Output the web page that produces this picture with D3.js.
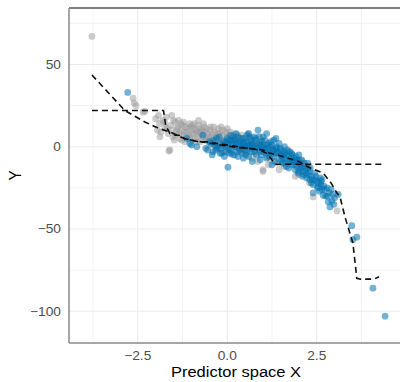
<!DOCTYPE html>
<html><head><meta charset="utf-8">
<script src="https://cdn.jsdelivr.net/npm/d3@7"></script>
<style>html,body{margin:0;padding:0;background:#fff}</style>
</head><body>
<script>
const xTicks = [-2.5, 0, 2.5];
const xMinor = [-3.75, -1.25, 1.25, 3.75];
const yTicks = [-100, -50, 0, 50];
const yMinor = [-75, -25, 25, 75];
const xLabel = "Predictor space X";
const yLabel = "Y";

const grayPoints = [
[-3.78,67],[-2.63,29.5],[-2.6,26.5],[-2.55,25],[-2.35,21],[-2.3,21.5],[-1.88,6],[-1.8,16],[-1.74,12],[-1.63,-2.6],[-1.6,-2],[-1.52,6],[-1.46,15],[-1.4,11],[-1.35,8],[-1.3,14],[-1.24,13],[-1.2,9],[-1.15,6],[-1.1,11],[-1.05,14],[-1.0,8],[-0.96,11],[-0.9,5],[-0.85,9],[-0.8,13],[-0.75,3],[-0.72,7],[-0.7,10],[-0.65,12],[-0.6,4],[-0.55,8],[-0.5,1],[-0.48,10],[-0.45,6],[-0.4,3],[-0.35,9],[-0.3,-1],[-0.28,5],[-0.25,11],[-0.2,2],[-0.15,7],[-0.1,-3],[-0.08,4],[-0.05,9],[0,11],[0.02,1],[0.05,-2],[0.1,6],[0.12,3],[0.15,-5],[0.2,8],[0.25,0],[0.3,4],[0.35,-3],[0.4,7],[0.45,1],[0.5,-4],[0.55,3],[0.6,-1],[0.65,5],[0.7,-7],[0.75,0],[0.8,2],[0.85,-9],[0.9,-3],[1.0,-14],[1.0,-15],[1.05,1],[1.1,-6],[1.2,-8],[1.3,-2],[1.4,-10],[1.5,-5],[1.6,-12],[1.8,-9],[2.0,-17],[2.2,-14],[2.4,-30.5],[3.07,-39],
[-1.95,10],[-1.9,14],[-1.85,9],[-1.7,18],[-1.65,8],[-1.58,13],[-1.55,10],[-1.5,16],[-1.48,4],[-1.42,9],[-1.38,12],[-1.33,5],[-1.28,10],[-1.25,7],[-1.22,15],[-1.18,3],[-1.12,9],[-1.08,7],[-1.02,12],[-0.98,4],[-0.94,8],[-0.92,14],[-0.88,10],[-0.82,6],[-0.78,11],[-0.74,8],[-0.68,5],[-0.63,9],[-0.58,11],[-0.52,6],[-0.46,3],[-0.42,8],[-0.38,12],[-0.32,6],[-0.22,8],[-0.18,4],[-0.12,10],[-0.02,6],[0.08,9],[0.18,3],[0.28,7],[0.38,-1],[0.48,5],[0.58,8],[0.68,2],[0.78,-4],[0.95,3],[1.15,-11],[1.25,-5],[1.45,-14],[1.7,-3],[1.9,-18],[2.1,-9],[2.3,-22],
[-1.75,15],[-1.68,11],[-1.45,7],[-1.36,16],[-1.27,4],[-1.16,12],[-1.06,5],[-0.97,13],[-0.86,3],[-0.77,9],[-0.66,14],[-0.57,5],[-0.47,12],[-0.37,1],[-0.27,8],[-0.17,12],[-0.07,1],[0.03,7],[0.13,-1],[0.23,5],[-2.0,17],[-1.92,19],[-1.55,19],[-0.8,16]
];

const bluePoints = [
[-2.78,33],[-1.13,5],[-1.04,2],[-1.0,1],[-0.85,0],[-0.68,7],[-0.6,-1],[-0.5,3],[-0.4,-3],[-0.35,1],[-0.3,5],[-0.25,-1],[-0.2,2],[-0.15,-4],[-0.1,3],[-0.05,0],[0.02,-12.5],[0,5],[0.05,2],[0.1,-2],[0.1,7],[0.15,1],[0.2,4],[0.2,-5],[0.25,2],[0.3,-1],[0.3,6],[0.35,3],[0.4,-4],[0.4,1],[0.45,5],[0.5,0],[0.5,-2],[0.55,3],[0.6,-6],[0.6,1],[0.65,4],[0.7,-1],[0.7,2],[0.75,-3],[0.8,5],[0.8,0],[0.86,10],[0.9,-2],[0.9,2],[0.95,-5],[1.0,0],[1.0,-3],[1.05,4],[1.1,-1],[1.1,-7],[1.15,2],[1.2,-4],[1.2,0],[1.25,-2],[1.3,-6],[1.36,5],[1.35,-1],[1.4,-3],[1.45,-8],[1.5,-2],[1.5,-5],[1.55,-10],[1.6,-4],[1.6,-7],[1.65,-12],[1.7,-6],[1.75,-9],[1.8,-4],[1.8,-11],[1.85,-7],[1.9,-14],[1.9,-9],[1.95,-12],[2.0,-8],[2.0,-15],[2.05,-11],[2.1,-13],[2.1,-18],[2.15,-10],[2.2,-16],[2.25,-13],[2.3,-20],[2.3,-15],[2.35,-18],[2.4,-23],[2.4,-28],[2.45,-16],[2.5,-21],[2.54,-24.5],[2.6,-19],[2.65,-26],[2.68,-29.5],[2.79,-25],[2.82,-33.5],[2.87,-36.6],[3.0,-31],[3.1,-29],[3.48,-48],[3.51,-56.5],[3.62,-55],[4.07,-86],[4.41,-103],
[-0.45,2],[-0.42,-5],[-0.38,4],[-0.32,-2],[-0.28,0],[-0.22,6],[-0.18,-1],[-0.12,1],[-0.08,-6],[-0.02,3],[0.03,-1],[0.08,4],[0.12,-4],[0.18,6],[0.22,0],[0.28,-3],[0.32,2],[0.38,5],[0.42,-1],[0.48,3],[0.52,-5],[0.58,0],[0.62,6],[0.68,-3],[0.72,1],[0.78,4],[0.82,-5],[0.88,1],[0.92,-8],[0.97,3],[1.02,-1],[1.08,-4],[1.12,1],[1.18,-6],[1.22,3],[1.28,-2],[1.32,-9],[1.38,0],[1.42,-4],[1.48,-1],[1.52,-8],[1.58,-3],[1.62,-10],[1.68,-2],[1.72,-13],[1.78,-7],[1.82,-5],[1.88,-11],[1.92,-6],[1.98,-16],[2.02,-10],[2.08,-8],[2.12,-15],[2.18,-12],[2.22,-19],[2.28,-17],[2.32,-13],[2.38,-20],[2.48,-18],[2.55,-22],[2.58,-27],[2.62,-23],[2.72,-26],[2.75,-30],[2.85,-28],[2.92,-33],[2.95,-29],[2.62,-21],[0.25,8],[0.55,7],[1.0,6],[0.45,-7],[1.25,-11],[0.7,-9],
[0.05,-4],[0.15,4],[0.35,-2],[0.45,2],[0.55,-3],[0.65,1],[0.75,6],[0.85,-1],[0.95,1],[1.05,-2],[1.15,-3],[1.25,1],[1.35,-4],[1.45,2],[1.55,-6],[1.65,-5],[1.75,-3],[1.85,-9],[1.95,-8],[2.05,-13],[2.15,-17],[2.25,-10],[2.35,-22],[2.45,-20],[2.52,-25],[2.65,-20],[2.7,-24],[2.8,-30],[2.9,-26],[2.98,-35],[0.9,6],[1.3,4],[1.6,0],[0.3,-6],[-0.05,-3],[0.6,8],[1.1,8],[1.7,-9],[2.0,-5],[-0.55,-2],[-0.2,-4],[0.0,2]
];

const lineAX = [-3.78, -1.78, -1.72, -1.6, -1.45, -1.3, -1.2, -1.0, -0.8, -0.6, -0.3, 0.0, 0.3, 0.6, 0.9, 1.1, 1.25, 1.33, 4.41];
const lineAY = [22, 22, 13, 8, 7, 7, 5, 4, 3, 3, 2, 1, 0, -1, -2, -4, -8, -10.7, -10.7];
const lineBX = [-3.78, -2.86, -2.3, -1.9, -1.6, -1.4, -1.2, -0.9, -0.6, -0.3, 0, 0.3, 0.6, 0.85, 1.0, 1.1, 1.2, 1.4, 1.7, 2.0, 2.23, 2.45, 2.68, 2.9, 3.06, 3.15, 3.29, 3.51, 3.62, 3.72, 4.1, 4.24];
const lineBY = [43.6, 22, 15, 11, 9, 7, 5, 3.5, 2.5, 1.5, 0.5, -0.5, -1, -1.5, -2, -3.5, -4, -5, -7, -9, -12, -14, -16, -22, -28, -30.5, -42.7, -58.5, -80, -80.5, -80.5, -79];

const W = 400, H = 382;
const P = {l: 69, r: 403, t: 8, b: 343};
const svg = d3.select("body").append("svg").attr("width", W).attr("height", H);
const x = d3.scaleLinear().domain([-4.42, 4.91]).range([P.l, P.r]);
const y = d3.scaleLinear().domain([-119.3, 84.3]).range([P.b, P.t]);

svg.append("defs").append("clipPath").attr("id","clip").append("rect")
  .attr("x", P.l).attr("y", P.t).attr("width", P.r - P.l).attr("height", P.b - P.t);

const g = svg.append("g").attr("clip-path","url(#clip)");
g.selectAll(".mx").data(xMinor).join("line").attr("x1", d=>x(d)).attr("x2", d=>x(d)).attr("y1",P.t).attr("y2",P.b).attr("stroke","#f0f0f0").attr("stroke-width",0.8);
g.selectAll(".my").data(yMinor).join("line").attr("y1", d=>y(d)).attr("y2", d=>y(d)).attr("x1",P.l).attr("x2",P.r).attr("stroke","#f0f0f0").attr("stroke-width",0.8);
g.selectAll(".Mx").data(xTicks).join("line").attr("x1", d=>x(d)).attr("x2", d=>x(d)).attr("y1",P.t).attr("y2",P.b).attr("stroke","#ebebeb").attr("stroke-width",1.1);
g.selectAll(".My").data(yTicks).join("line").attr("y1", d=>y(d)).attr("y2", d=>y(d)).attr("x1",P.l).attr("x2",P.r).attr("stroke","#ebebeb").attr("stroke-width",1.1);

g.selectAll(".gp").data(grayPoints).join("circle")
  .attr("cx", d=>x(d[0])).attr("cy", d=>y(d[1])).attr("r",3.4)
  .attr("fill","#999999").attr("fill-opacity",0.5);
g.selectAll(".bp").data(bluePoints).join("circle")
  .attr("cx", d=>x(d[0])).attr("cy", d=>y(d[1])).attr("r",3.4)
  .attr("fill","#0072B2").attr("fill-opacity",0.55);

const line = d3.line().x(d=>x(d[0])).y(d=>y(d[1]));
const lineA = lineAX.map((v,i)=>[v, lineAY[i]]);
const lineB = lineBX.map((v,i)=>[v, lineBY[i]]);
[lineA, lineB].forEach(L => {
  g.append("path").attr("d", line(L)).attr("fill","none")
   .attr("stroke","#111").attr("stroke-width",1.6).attr("stroke-dasharray","6,4");
});

svg.append("line").attr("x1",P.l).attr("x2",P.r).attr("y1",P.t).attr("y2",P.t).attr("stroke","#555").attr("stroke-width",1.6);
svg.append("line").attr("x1",P.l).attr("x2",P.l).attr("y1",P.t).attr("y2",P.b).attr("stroke","#888").attr("stroke-width",1.5);
svg.append("line").attr("x1",P.l).attr("x2",P.r).attr("y1",P.b).attr("y2",P.b).attr("stroke","#888").attr("stroke-width",1.5);

const font = "'Liberation Sans', Arial, sans-serif";
svg.selectAll(".xt").data(xTicks).join("text")
  .attr("transform", d=>`translate(${x(d)},360) scale(1.1,1)`)
  .attr("text-anchor","middle").attr("font-family",font).attr("font-size",12.5).attr("fill","#4d4d4d")
  .text(d=>d3.format(".1f")(d).replace("-","\u2212"));
svg.selectAll(".yt").data(yTicks).join("text")
  .attr("transform", d=>`translate(61,${y(d)}) scale(1.1,1)`)
  .attr("dy","0.35em")
  .attr("text-anchor","end").attr("font-family",font).attr("font-size",12.5).attr("fill","#4d4d4d")
  .text(d=>String(d).replace("-","\u2212"));
svg.append("text").attr("transform",`translate(${(P.l+P.r)/2},377) scale(1.1,1)`)
  .attr("text-anchor","middle").attr("font-family",font).attr("font-size",15).attr("fill","#000").text(xLabel);
svg.append("text").attr("transform",`translate(21,${(P.t+P.b)/2}) rotate(-90) scale(1,1.1)`)
  .attr("text-anchor","middle").attr("font-family",font).attr("font-size",15.3).attr("fill","#000").text(yLabel);
</script>
</body></html>
